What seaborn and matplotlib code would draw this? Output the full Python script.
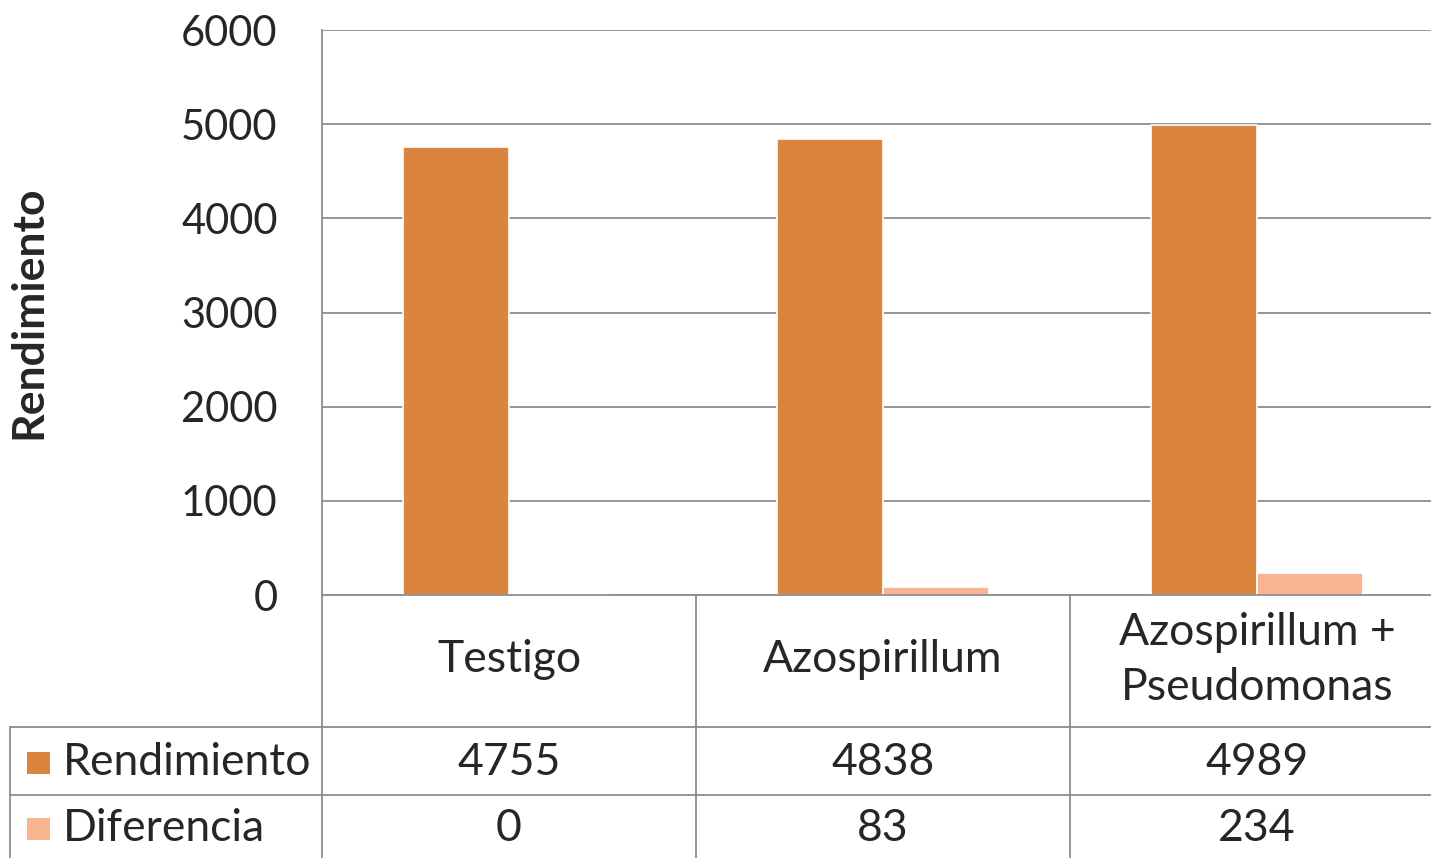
import matplotlib.pyplot as plt
import matplotlib.transforms as mtransforms
from matplotlib.patches import Rectangle
import pandas as pd
import seaborn as sns

categories = ["Testigo", "Azospirillum", "Azospirillum +\nPseudomonas"]
series = ["Rendimiento", "Diferencia"]
rendimiento = [4755, 4838, 4989]
diferencia = [0, 83, 234]
colors = ["#DB843D", "#F9B490"]
yticks = [0, 1000, 2000, 3000, 4000, 5000, 6000]

sns.set_theme(style="white")
plt.rcParams["font.family"] = ["Lato", "DejaVu Sans"]

df = pd.DataFrame({
    "cat": categories * 2,
    "serie": [series[0]] * 3 + [series[1]] * 3,
    "valor": rendimiento + diferencia,
})

fig = plt.figure(figsize=(14.31, 8.58), dpi=100)
ax = fig.add_axes([0.225, 0.3065, 0.784, 0.6585])
sns.barplot(data=df, x="cat", y="valor", hue="serie", palette=colors,
            saturation=1, width=0.567, gap=0, edgecolor="white",
            linewidth=1.2, legend=False, ax=ax, zorder=3)
ax.set_xlim(-0.5, 2.5)
ax.set_ylim(0, 6000)
ax.set_yticks(yticks)
ax.set_yticklabels([str(t) for t in yticks], fontsize=30)
ax.tick_params(axis="y", length=0, pad=32)
ax.set_xticks([])
ax.set_xlabel("")
ax.set_ylabel("Rendimiento", fontsize=32, fontweight="bold")
ax.yaxis.set_label_coords(-0.244, 0.5)
ax.grid(axis="y", color="#8c8c8c", linewidth=1.3, zorder=0)
for side in ["top", "right", "bottom"]:
    ax.spines[side].set_visible(False)
ax.spines["left"].set_color("#8c8c8c")
ax.spines["left"].set_linewidth(1.3)

# data table below the axes
line_kw = dict(color="#8c8c8c", linewidth=1.3, clip_on=False, zorder=4)
trans = mtransforms.blended_transform_factory(ax.transData, ax.transAxes)
x_left = -1.334
y_hdr, y_r1, y_r2, y_bot = 0.0, -0.2336, -0.354, -0.48
ax.plot([-0.5, 2.6], [y_hdr, y_hdr], transform=trans, **line_kw)
for yy in (y_r1, y_r2):
    ax.plot([x_left, 2.6], [yy, yy], transform=trans, **line_kw)
for xx in (-0.5, 0.5, 1.5):
    ax.plot([xx, xx], [y_hdr, y_bot], transform=trans, **line_kw)
ax.plot([x_left, x_left], [y_r1, y_bot], transform=trans, **line_kw)

rows = [rendimiento, diferencia]
row_y = [-0.297, -0.414]
for i, cat in enumerate(categories):
    ax.text(i, -0.115, cat, transform=trans, ha="center", va="center",
            fontsize=32, linespacing=1.45)
    for vals, yy in zip(rows, row_y):
        ax.text(i, yy, str(vals[i]), transform=trans, ha="center",
                va="center", fontsize=32)

for name, col, yy in zip(series, colors, row_y):
    ax.add_patch(Rectangle((-1.29, yy - 0.02), 0.062, 0.04, transform=trans,
                           facecolor=col, edgecolor="none", clip_on=False))
    ax.text(-1.192, yy, name, transform=trans, ha="left", va="center",
            fontsize=32)

fig.savefig("out.png", dpi=100)
